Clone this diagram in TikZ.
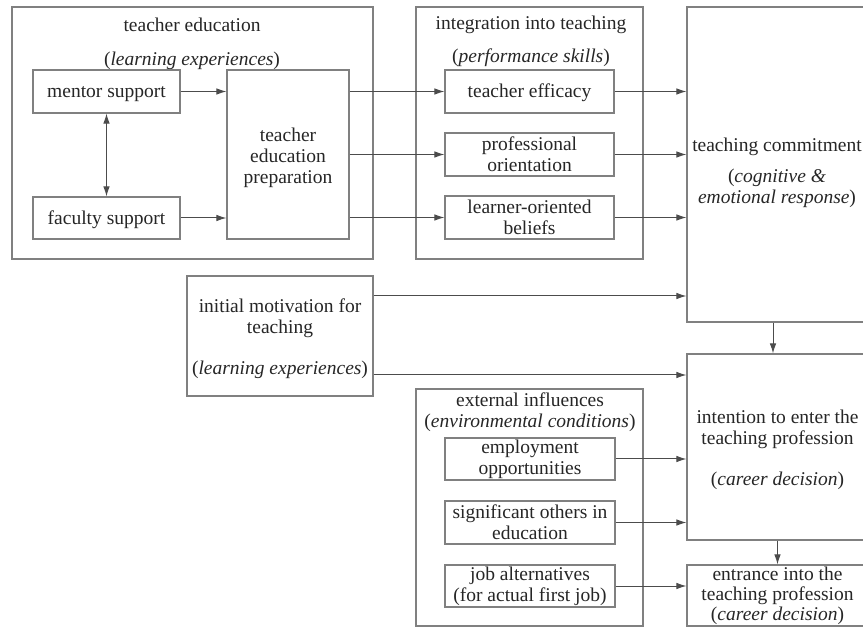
\documentclass[tikz,border=0pt]{standalone}
\usepackage{fontspec}
\setmainfont{Liberation Serif}
\usetikzlibrary{arrows.meta}
\newcommand\flx{\rule{0pt}{20pt}}
\begin{document}
\begin{tikzpicture}[x=1pt,y=-1pt,
  txtbase/.style={font=\fontsize{19.5}{21}\selectfont, text=black!85, align=center, inner sep=0pt},
  txt/.style={txtbase, execute at begin node={\rule{0pt}{16.5pt}}},
  boxbase/.style={draw=black!50, line width=1.1pt, rectangle},
  box/.style={txt, boxbase},
  plainbox/.style={txtbase, boxbase},
  arr/.style={draw=black!70, line width=1pt, -{Latex[length=10pt,width=6.5pt]}},
  darr/.style={draw=black!70, line width=1pt, {Latex[length=10pt,width=6.5pt]}-{Latex[length=10pt,width=6.5pt]}}]
\useasboundingbox (0,0) rectangle (863,628);
\clip (0,0) rectangle (863,628);
\fill[white] (0,0) rectangle (863,628);
% containers
\node[box, minimum width=361pt, minimum height=252pt] (teA) at (192.5,133) {};
\node[box, minimum width=227pt, minimum height=252pt] (itA) at (529.5,133) {};
\node[box, minimum width=227pt, minimum height=237pt] (ei) at (529.5,507.5) {};
\node[txt] (teAt) at (192,23) {teacher education};
\node[txt] (teAs) at (192,59) {(\textit{learning experiences})};
\node[txt] (itAt) at (531,23) {integration into teaching};
\node[txt] (itAs) at (531,56) {(\textit{performance skills})};
\node[txt] (eit) at (530,409) {\flx external influences\\(\textit{environmental conditions})};
% inner boxes
\node[box, minimum width=147pt, minimum height=43pt] (ms) at (106.5,91.5) {mentor support};
\node[box, minimum width=147pt, minimum height=42pt] (fs) at (106.5,218) {faculty support};
\node[box, minimum width=122pt, minimum height=169pt] (tep) at (288,154.5) {\flx teacher\\education\\preparation};
\node[box, minimum width=169pt, minimum height=43pt] (te) at (529.5,91.5) {teacher efficacy};
\node[plainbox, minimum width=169pt, minimum height=43pt] (po) at (529.5,154.5) {professional\\orientation};
\node[plainbox, minimum width=169pt, minimum height=43pt] (lb) at (529.5,217.5) {learner-oriented\\beliefs};
\node[box, minimum width=181pt, minimum height=315pt] (tc) at (777.5,164.5) {};
\node[txt] (tct) at (777,170) {\flx teaching commitment\\[10pt](\textit{cognitive \&}\\\textit{emotional response})};
\node[box, minimum width=186pt, minimum height=120pt] (im) at (280,336) {\flx initial motivation for\\teaching\\[20pt](\textit{learning experiences})};
\node[plainbox, minimum width=170pt, minimum height=42pt] (eo) at (530,459) {employment\\opportunities};
\node[plainbox, minimum width=170pt, minimum height=43pt] (so) at (530,522.5) {significant others in\\education};
\node[plainbox, minimum width=170pt, minimum height=42pt] (ja) at (530,586) {job alternatives\\(for actual first job)};
\node[box, minimum width=181pt, minimum height=186pt] (it) at (777.5,447) {\flx intention to enter the\\teaching profession\\[20pt](\textit{career decision})};
\node[plainbox, minimum width=181pt, minimum height=61pt] (en) at (777.5,595.5) {entrance into the\\[-1pt]teaching profession\\[-1pt](\textit{career decision})};
% connectors
\draw[arr] (ms.east) -- (ms.east -| tep.west);
\draw[arr] (fs.east) -- (fs.east -| tep.west);
\draw[darr] (ms.south) -- (fs.north);
\draw[arr] (tep.east |- te.west) -- (te.west);
\draw[arr] (tep.east |- po.west) -- (po.west);
\draw[arr] (tep.east |- lb.west) -- (lb.west);
\draw[arr] (te.east) -- (te.east -| tc.west);
\draw[arr] (po.east) -- (po.east -| tc.west);
\draw[arr] (lb.east) -- (lb.east -| tc.west);
\coordinate (imA) at ([yshift=40pt]im.east);
\coordinate (imB) at ([yshift=-39pt]im.east);
\draw[arr] (imA) -- (imA -| tc.west);
\draw[arr] (imB) -- (imB -| it.west);
\coordinate (tcB) at ([xshift=-4.5pt]tc.south);
\draw[arr] (tcB) -- (tcB |- it.north);
\draw[arr] (eo.east) -- (eo.east -| it.west);
\draw[arr] (so.east) -- (so.east -| it.west);
\draw[arr] (ja.east) -- (ja.east -| en.west);
\draw[arr] (it.south) -- (en.north);
\end{tikzpicture}
\end{document}
